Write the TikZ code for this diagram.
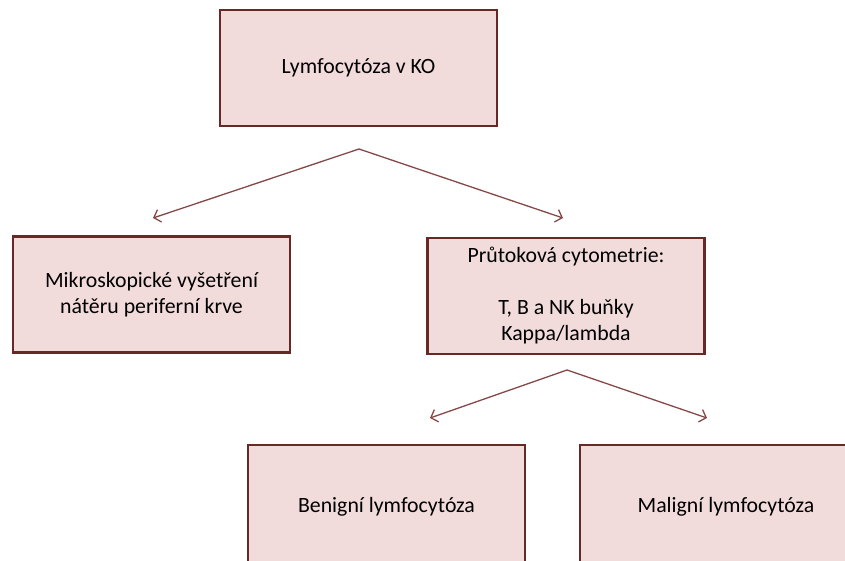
\documentclass[tikz,border=0pt]{standalone}
\usepackage{fontspec}
\setmainfont{Carlito}
\usetikzlibrary{positioning,arrows.meta}
\definecolor{boxfill}{HTML}{F2DCDB}
\definecolor{boxline}{HTML}{672826}
\definecolor{arrowline}{HTML}{854846}

\begin{document}
\begin{tikzpicture}
    [x=1pt,y=-1pt,>={Straight Barb[length=6pt,width=13pt]},
     box/.style={draw=boxline,fill=boxfill,line width=2.4pt,minimum width=277pt,
                 minimum height=116pt,inner sep=0pt,align=center,
                 font=\fontsize{21.8}{26}\selectfont},
     split/.style={draw=arrowline,line width=1.3pt,->}]

    \useasboundingbox (0,0) rectangle (845,560);
    \clip (0,0) rectangle (845,560);

    \node[box] (ko) at (358.5,68) {Lymfocytóza v KO};
    \node[box] (mikro) at (151.5,294.5) {Mikroskopické vyšetření\\nátěru periferní krve};
    \node[box] (cyto) at (566,296) {Průtoková cytometrie:\\[26pt]T, B a NK buňky\\Kappa/lambda};
    \node[box,minimum height=124pt] (benign) at (386.5,507) {Benigní lymfocytóza};
    \node[box,minimum width=292pt,minimum height=124pt] (malign) at (726,507) {Maligní lymfocytóza};

    \coordinate (top) at (359,149);
    \coordinate (topl) at (153,218);
    \coordinate (topr) at (563,218);
    \coordinate (bot) at (567,370);
    \coordinate (botl) at (430,418);
    \coordinate (botr) at (707,418);

    \draw[split] (top) -- (topl);
    \draw[split] (top) -- (topr);
    \draw[split] (bot) -- (botl);
    \draw[split] (bot) -- (botr);

\end{tikzpicture}
\end{document}
